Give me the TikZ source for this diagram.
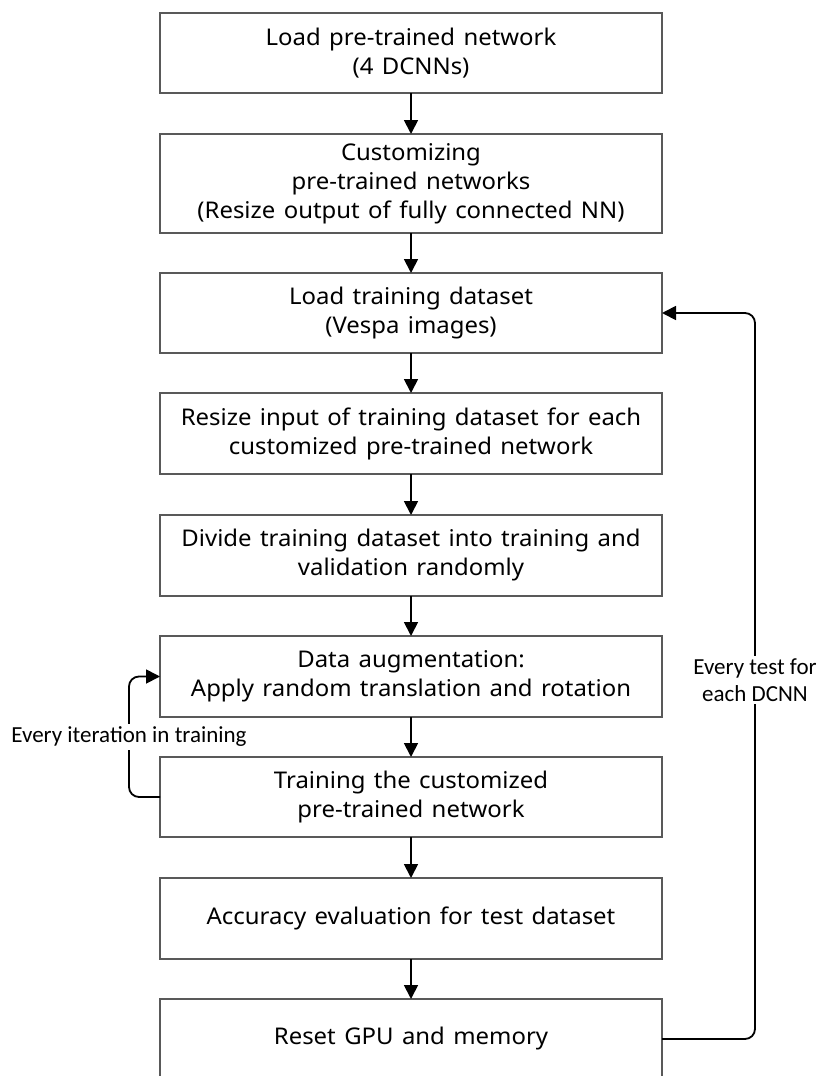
\documentclass[tikz,border=0pt]{standalone}
\usepackage{fontspec}
\setmainfont[WordSpace=1.35, FakeStretch=1.04]{Noto Sans}
\newfontfamily\lblfont{Carlito}
\usetikzlibrary{arrows.meta}
\tikzset{
  stepbox/.style={draw=black!65, line width=1.1pt, minimum width=502pt, minimum height=80pt,
    inner sep=0pt, outer sep=0pt, align=center, font=\fontsize{23}{29}\selectfont},
  flow/.style={line width=1.8pt, -{Triangle[width=14pt,length=14pt]}},
  loopnote/.style={fill=white, inner sep=3pt, align=center, font=\lblfont\fontsize{23}{27}\selectfont}
}
\begin{document}
\begin{tikzpicture}[x=1pt,y=-1pt]
\useasboundingbox (0,0) rectangle (820,1076);
\clip (0,0) rectangle (820,1076);
\node[stepbox] (b1) at (411,53) {Load pre-trained network\\(4 DCNNs)};
\node[stepbox, minimum height=99pt] (b2) at (411,183.5) {Customizing\\pre-trained networks\\(Resize output of fully connected NN)};
\node[stepbox] (b3) at (411,313) {Load training dataset\\(Vespa images)};
\node[stepbox, minimum height=81pt] (b4) at (411,433.5) {Resize input of training dataset for each\\customized pre-trained network};
\node[stepbox, minimum height=81pt] (b5) at (411,555.5) {Divide training dataset into training and\\validation randomly};
\node[stepbox, minimum height=81pt] (b6) at (411,676.5) {Data augmentation:\\Apply random translation and rotation};
\node[stepbox] (b7) at (411,797) {Training the customized\\pre-trained network};
\node[stepbox, minimum height=81pt] (b8) at (411,918.5) {Accuracy evaluation for test dataset};
\node[stepbox] (b9) at (411,1039) {Reset GPU and memory};

\draw[flow] (b1) -- (b2);
\draw[flow] (b2) -- (b3);
\draw[flow] (b3) -- (b4);
\draw[flow] (b4) -- (b5);
\draw[flow] (b5) -- (b6);
\draw[flow] (b6) -- (b7);
\draw[flow] (b7) -- (b8);
\draw[flow] (b8) -- (b9);

% outer loop: next network
\draw[flow, rounded corners=10pt] (b9.east) -- (755,1039) -- (755,313) -- (b3.east);
\node[loopnote] (n1) at (755,680) {Every test for\\each DCNN};

% inner loop: training iterations
\draw[flow, rounded corners=10pt] (b7.west) -- (129,797) -- (129,676.5) -- (b6.west);
\node[loopnote] (n2) at (129,737) {Every iteration in training};
\end{tikzpicture}
\end{document}
